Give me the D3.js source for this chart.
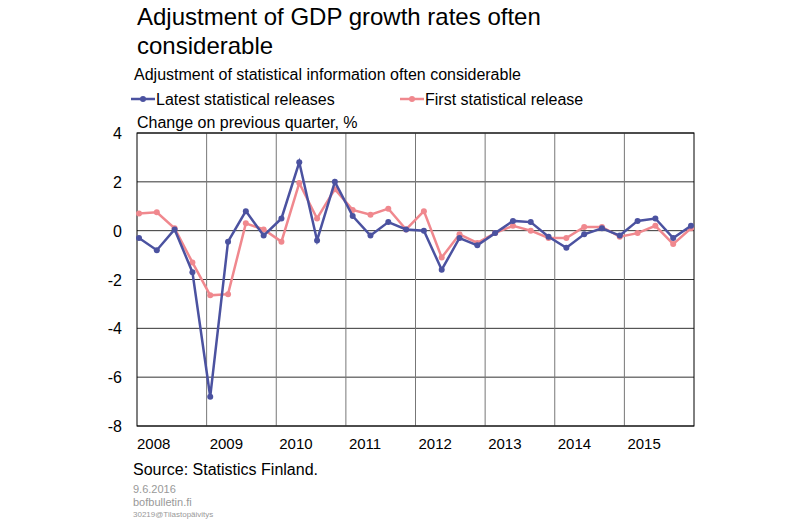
<!DOCTYPE html><html><head><meta charset="utf-8"><script src="https://cdn.jsdelivr.net/npm/d3@7"></script>
<style>body{margin:0;background:#fff}text{font-family:"Liberation Sans",Arial,sans-serif}</style></head><body>
<svg id="c" width="800" height="522"></svg>
<script>
const years=["2008","2009","2010","2011","2012","2013","2014","2015"];
const latest=[-0.3,-0.8,0.05,-1.7,-6.8,-0.45,0.8,-0.2,0.5,2.8,-0.4,2.0,0.6,-0.2,0.35,0.05,0.0,-1.6,-0.3,-0.6,-0.1,0.4,0.35,-0.25,-0.7,-0.15,0.1,-0.2,0.4,0.5,-0.3,0.2];
const first=[0.7,0.75,0.1,-1.3,-2.65,-2.6,0.3,0.05,-0.45,1.95,0.5,1.7,0.85,0.65,0.9,0.05,0.8,-1.1,-0.15,-0.5,-0.1,0.2,0.0,-0.3,-0.3,0.15,0.15,-0.25,-0.1,0.2,-0.55,0.1];
const yTicks=[4,2,0,-2,-4,-6,-8];
const svg=d3.select("#c");
const L=137,R=694,T=133,B=426;
const y=d3.scaleLinear().domain([-8,4]).range([B,T]);
const xy=d3.scaleLinear().domain([0,8]).range([L,R]);
const x=d3.scaleLinear().domain([0,31]).range([139,691]);
svg.append("text").attr("x",137).attr("y",25).attr("font-size",24).text("Adjustment of GDP growth rates often");
svg.append("text").attr("x",137).attr("y",54).attr("font-size",24).text("considerable");
svg.append("text").attr("x",134).attr("y",80).attr("font-size",16).text("Adjustment of statistical information often considerable");
const lg=[["Latest statistical releases","#4b52a0",131],["First statistical release","#f0888e",400]];
lg.forEach(([t,c,lx])=>{svg.append("line").attr("x1",lx).attr("x2",lx+24).attr("y1",99).attr("y2",99).attr("stroke",c).attr("stroke-width",2.5);
svg.append("circle").attr("cx",lx+12).attr("cy",99).attr("r",3).attr("fill",c);
svg.append("text").attr("x",lx+25).attr("y",105).attr("font-size",16).text(t);});
svg.append("text").attr("x",137).attr("y",128).attr("font-size",16).text("Change on previous quarter, %");
yTicks.forEach(v=>{svg.append("line").attr("x1",L).attr("x2",R).attr("y1",y(v)).attr("y2",y(v)).attr("stroke","#333").attr("stroke-width",1);
svg.append("text").attr("x",122).attr("y",y(v)+6).attr("text-anchor","end").attr("font-size",16).text(v);});
d3.range(1,8).forEach(i=>svg.append("line").attr("x1",xy(i)).attr("x2",xy(i)).attr("y1",T).attr("y2",B).attr("stroke","#777"));
svg.append("rect").attr("x",L).attr("y",T).attr("width",R-L).attr("height",B-T).attr("fill","none").attr("stroke","#000");
years.forEach((t,i)=>svg.append("text").attr("x",xy(i)+(i==0?0:3)).attr("y",449).attr("font-size",15).text(t));
const line=d3.line().x((d,i)=>x(i)).y(d=>y(d));
[[first,"#f0888e"],[latest,"#4b52a0"]].forEach(([d,c])=>{
svg.append("path").attr("d",line(d)).attr("fill","none").attr("stroke",c).attr("stroke-width",2.5);
svg.selectAll(null).data(d).enter().append("circle").attr("cx",(v,i)=>x(i)).attr("cy",v=>y(v)).attr("r",3).attr("fill",c);});
svg.append("text").attr("x",133).attr("y",475).attr("font-size",16).text("Source: Statistics Finland.");
svg.append("text").attr("x",133).attr("y",493).attr("font-size",11).attr("fill","#999").text("9.6.2016");
svg.append("text").attr("x",133).attr("y",506).attr("font-size",11).attr("fill","#999").text("bofbulletin.fi");
svg.append("text").attr("x",133).attr("y",517).attr("font-size",8).attr("fill","#999").text("30219@Tilastopäivitys");
</script></body></html>
